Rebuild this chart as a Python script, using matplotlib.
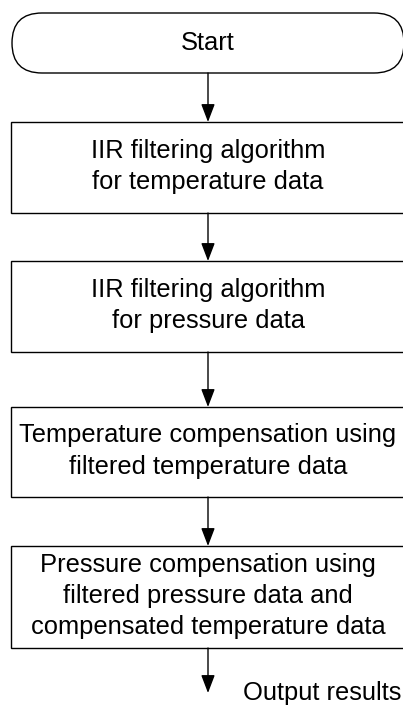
import matplotlib
matplotlib.use('Agg')
import matplotlib.pyplot as plt
from matplotlib.patches import FancyBboxPatch, Rectangle

# Textes du diagramme
start_label = "Start"
step_labels = [
    "IIR filtering algorithm\nfor temperature data",
    "IIR filtering algorithm\nfor pressure data",
    "Temperature compensation using\nfiltered temperature data",
    "Pressure compensation using\nfiltered pressure data and\ncompensated temperature data",
]
end_label = "Output results"

# Géométrie (pixels, axe y vers le bas)
W, H = 403, 706
cx = 208
box_x0, box_x1 = 11, 405
term_y = (13, 73)
step_y = [(122, 213), (261, 352), (407, 497), (546, 648)]
end_arrow_y = 693

plt.rcParams['font.family'] = ['Liberation Sans', 'DejaVu Sans']

fig = plt.figure(figsize=(W / 100, H / 100), dpi=100)
ax = fig.add_axes([0, 0, 1, 1])
ax.set_xlim(0, W)
ax.set_ylim(H, 0)
ax.axis('off')

lw = 1.0
fs = 18.4

def arrow(y0, y1):
    ax.annotate('', xy=(cx, y1), xytext=(cx, y0),
                arrowprops=dict(arrowstyle='-|>,head_length=1.1,head_width=0.42',
                                mutation_scale=10, color='black', lw=lw,
                                shrinkA=0, shrinkB=0))

# Terminal de départ
r = (term_y[1] - term_y[0]) / 2
term = FancyBboxPatch((box_x0 + 1, term_y[0]), box_x1 - box_x0 - 2, term_y[1] - term_y[0],
                      boxstyle=f"round,pad=0,rounding_size={r}",
                      fc='white', ec='black', lw=lw)
ax.add_patch(term)
ax.text(cx, sum(term_y) / 2, start_label, ha='center', va='center', fontsize=fs)

prev = term_y[1]
for lab, (y0, y1) in zip(step_labels, step_y):
    arrow(prev, y0)
    ax.add_patch(Rectangle((box_x0, y0), box_x1 - box_x0, y1 - y0,
                           fc='white', ec='black', lw=lw))
    ax.text(cx, (y0 + y1) / 2 - 1, lab, ha='center', va='center', fontsize=fs,
            linespacing=1.38)
    prev = y1

arrow(prev, end_arrow_y)
ax.text(243, 693, end_label, ha='left', va='center', fontsize=fs)

fig.savefig('out.png', dpi=100)
